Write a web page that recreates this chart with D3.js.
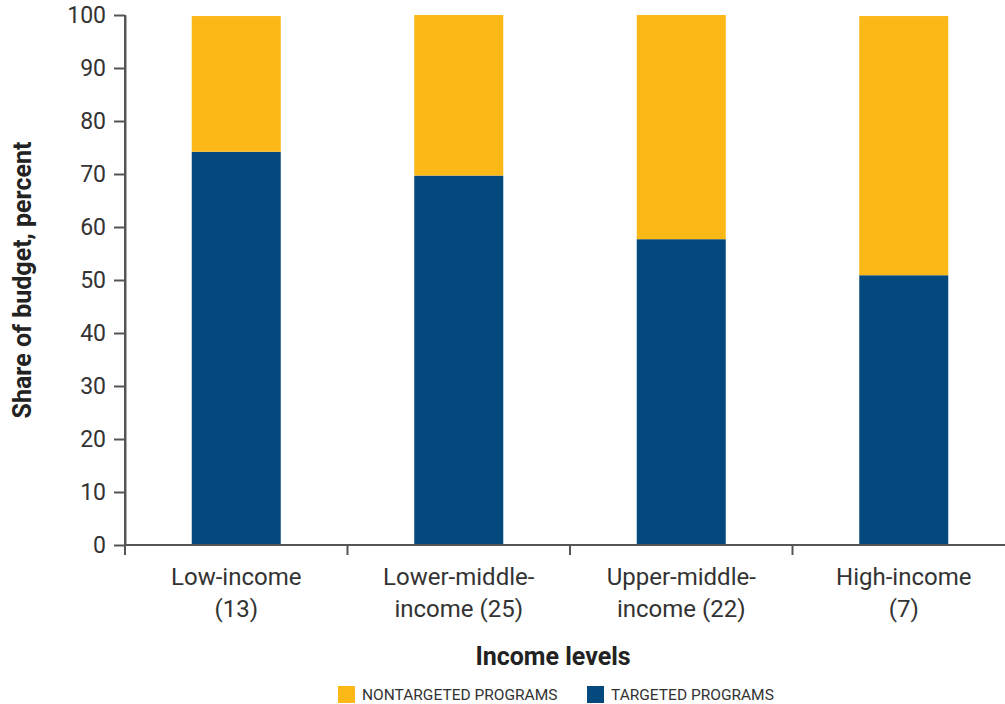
<!DOCTYPE html>
<html><head><meta charset="utf-8">
<script src="https://cdn.jsdelivr.net/npm/d3@7"></script>
<style>body{margin:0;background:#fff}svg{display:block}</style>
</head><body>
<svg id="c" width="1005" height="704"></svg>
<script>
const categories = ["Low-income (13)", "Lower-middle-income (25)", "Upper-middle-income (22)", "High-income (7)"];
const labelLines = [["Low-income","(13)"],["Lower-middle-","income (25)"],["Upper-middle-","income (22)"],["High-income","(7)"]];
const targeted = [74.2, 69.7, 57.7, 50.9];
const nontargeted = [25.6, 30.3, 42.3, 48.9];
const yTicks = [0,10,20,30,40,50,60,70,80,90,100];
const seriesNames = ["NONTARGETED PROGRAMS","TARGETED PROGRAMS"];
const colors = {targeted:"#03497D", nontargeted:"#FBB817"};

const svg = d3.select("#c");
const font = "Roboto, 'Open Sans', sans-serif";
const x = d3.scaleBand().domain(categories).range([125, 1015]).paddingInner(0).paddingOuter(0);
const y = d3.scaleLinear().domain([0,100]).range([545, 15]);
const bw = x.bandwidth()*0.4;

const data = categories.map((c,i)=>({c, t: targeted[i], n: nontargeted[i]}));
svg.append("g").selectAll("rect").data(data).join("rect")
  .attr("x", d=>x(d.c)+x.bandwidth()/2-bw/2).attr("width", bw)
  .attr("y", d=>y(d.t)).attr("height", d=>y(0)-y(d.t)).attr("fill", colors.targeted);
svg.append("g").selectAll("rect").data(data).join("rect")
  .attr("x", d=>x(d.c)+x.bandwidth()/2-bw/2).attr("width", bw)
  .attr("y", d=>y(d.t+d.n)).attr("height", d=>y(d.t)-y(d.t+d.n)).attr("fill", colors.nontargeted);

// y axis
const ya = svg.append("g").attr("transform","translate(125,0)")
  .call(d3.axisLeft(y).tickValues(yTicks).tickSize(11).tickPadding(8).tickSizeOuter(0));
ya.select(".domain").attr("stroke","#555").attr("stroke-width",2);
ya.selectAll(".tick line").attr("stroke","#555").attr("stroke-width",2);
ya.selectAll(".tick text").attr("font-family",font).attr("font-size",23).attr("fill","#333");

// x axis line and separators
const xa = svg.append("g");
xa.append("line").attr("x1",124).attr("x2",1005).attr("y1",y(0)).attr("y2",y(0)).attr("stroke","#555").attr("stroke-width",2);
xa.selectAll("line.sep").data(categories).join("line").attr("class","sep")
  .attr("x1",d=>x(d)).attr("x2",d=>x(d)).attr("y1",y(0)).attr("y2",y(0)+10)
  .attr("stroke","#555").attr("stroke-width",2);
xa.append("line").attr("x1",125).attr("x2",125).attr("y1",y(100)).attr("y2",y(0)+10).attr("stroke","#555").attr("stroke-width",2);

// category labels
const lab = svg.append("g").selectAll("text").data(categories).join("text")
  .attr("x", d=>x(d)+x.bandwidth()/2).attr("y", 585)
  .attr("text-anchor","middle").attr("font-family",font).attr("font-size",24).attr("fill","#333");
lab.each(function(d,i){
  const t = d3.select(this);
  labelLines[i].forEach((l,j)=>t.append("tspan").attr("x", x(d)+x.bandwidth()/2).attr("dy", j?32:0).text(l));
});

// axis titles
svg.append("text").attr("x", 553).attr("y", 665).attr("text-anchor","middle")
  .attr("font-family",font).attr("font-weight","bold").attr("font-size",25).attr("fill","#222").text("Income levels");
svg.append("text").attr("transform","translate(31,280) rotate(-90)").attr("text-anchor","middle")
  .attr("font-family",font).attr("font-weight","bold").attr("font-size",25).attr("fill","#222").text("Share of budget, percent");

// legend
const leg = [{name:seriesNames[0], color:colors.nontargeted, x:338},{name:seriesNames[1], color:colors.targeted, x:587}];
const lg = svg.append("g").selectAll("g").data(leg).join("g").attr("transform", d=>`translate(${d.x},686)`);
lg.append("rect").attr("width",17).attr("height",17).attr("fill",d=>d.color);
lg.append("text").attr("x",24).attr("y",14).attr("font-family",font).attr("font-size",15.5).attr("fill","#333").text(d=>d.name);
</script>
</body></html>
